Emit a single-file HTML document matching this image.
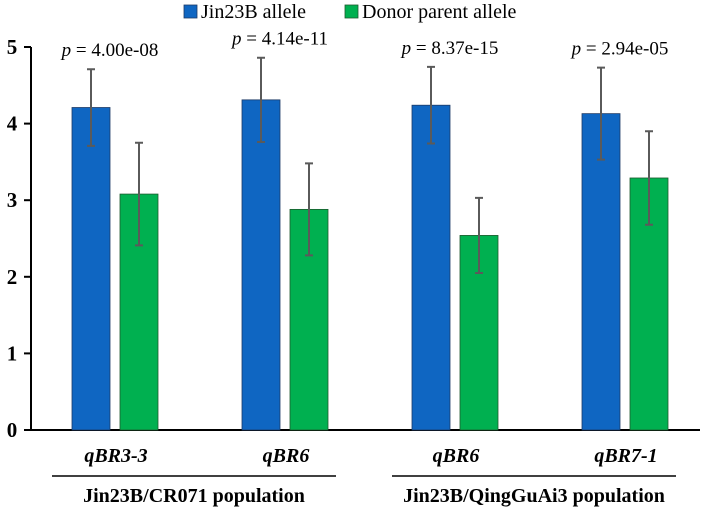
<!DOCTYPE html>
<html><head><meta charset="utf-8"><style>
body{margin:0;background:#fff;}
svg{display:block;}
text{font-family:"Liberation Serif","DejaVu Serif",serif;}
</style></head><body>
<svg id="chart" width="709" height="510" viewBox="0 0 709 510" font-family="Liberation Serif, serif">
<g id="legend">
 <g><rect x="184" y="5" width="13" height="13" fill="#0f66c2" stroke="#1d3a66" stroke-width="0.8"/><text x="201" y="18" font-size="20">Jin23B allele</text></g>
 <g><rect x="345" y="5" width="13" height="13" fill="#00b050" stroke="#1d5a2d" stroke-width="0.8"/><text x="362" y="18" font-size="20">Donor parent allele</text></g>
</g>
<g id="plot"></g>
</svg>
<script>
const categories=["qBR3-3","qBR6","qBR6","qBR7-1"];
const jinValues=[4.21,4.31,4.24,4.13];
const jinErrors=[0.5,0.55,0.5,0.6];
const donorValues=[3.08,2.88,2.54,3.29];
const donorErrors=[0.67,0.6,0.49,0.61];
const pLabels=["4.00e-08","4.14e-11","8.37e-15","2.94e-05"];
const yTicks=[0,1,2,3,4,5];
const populations=["Jin23B/CR071 population","Jin23B/QingGuAi3 population"];

const NS="http://www.w3.org/2000/svg";
const g=document.getElementById('plot');
const y0=430,unit=76.6,x0=31,catW=170;
const yS=v=>y0-v*unit;
const xC=i=>x0+catW*(i+0.5);
function mk(t,a,p){const e=document.createElementNS(NS,t);for(const k in a)e.setAttribute(k,a[k]);(p||g).appendChild(e);return e;}

let ax=mk('line',{x1:x0,y1:yS(5),x2:x0,y2:y0,stroke:'#000','stroke-width':2});


let bx=mk('line',{x1:24,y1:y0,x2:700,y2:y0,stroke:'#000','stroke-width':2});


yTicks.forEach(t=>{
 let l=mk('line',{x1:24,x2:x0,y1:yS(t),y2:yS(t),stroke:'#000','stroke-width':2});
 
 
 let tx=mk('text',{x:12,y:yS(t)+7,'font-size':21,'font-weight':'bold','text-anchor':'middle'});
 tx.textContent=t;
 
 
});
function bar(cx,v,e,fill,stroke,name){
 let r=mk('rect',{x:cx-19,y:yS(v),width:38,height:y0-yS(v),fill:fill,stroke:stroke,'stroke-width':0.8});
 
 
 let eb=mk('path',{d:`M${cx},${yS(v+e)}V${yS(v-e)}M${cx-4},${yS(v+e)}H${cx+4}M${cx-4},${yS(v-e)}H${cx+4}`,stroke:'#5a5a5a','stroke-width':2,fill:'none'});
 
 
}
categories.forEach((c,i)=>{
 const cx=xC(i);
 bar(cx-25,jinValues[i],jinErrors[i],'#0f66c2','#1d3a66','bar-jin23b-'+i);
 bar(cx+23,donorValues[i],donorErrors[i],'#00b050','#1d5a2d','bar-donor-'+i);
 let p=mk('text',{x:cx-6,y:yS(jinValues[i]+jinErrors[i])-13,'font-size':19,'text-anchor':'middle'});
 p.innerHTML='<tspan font-style="italic">p</tspan> = '+pLabels[i];
 
 
 let cl=mk('text',{x:cx,y:462,'font-size':20,'font-weight':'bold','font-style':'italic','text-anchor':'middle'});
 cl.textContent=c;
 
 
});
populations.forEach((p,j)=>{
 const a=xC(2*j)-64,b=xC(2*j+1)+50;
 let l=mk('line',{x1:a,x2:b,y1:476,y2:476,stroke:'#000','stroke-width':1.5});
 
 
 let t=mk('text',{x:(a+b)/2,y:502,'font-size':20,'font-weight':'bold','text-anchor':'middle'});
 t.textContent=p;
 
 
});
</script>
</body></html>
